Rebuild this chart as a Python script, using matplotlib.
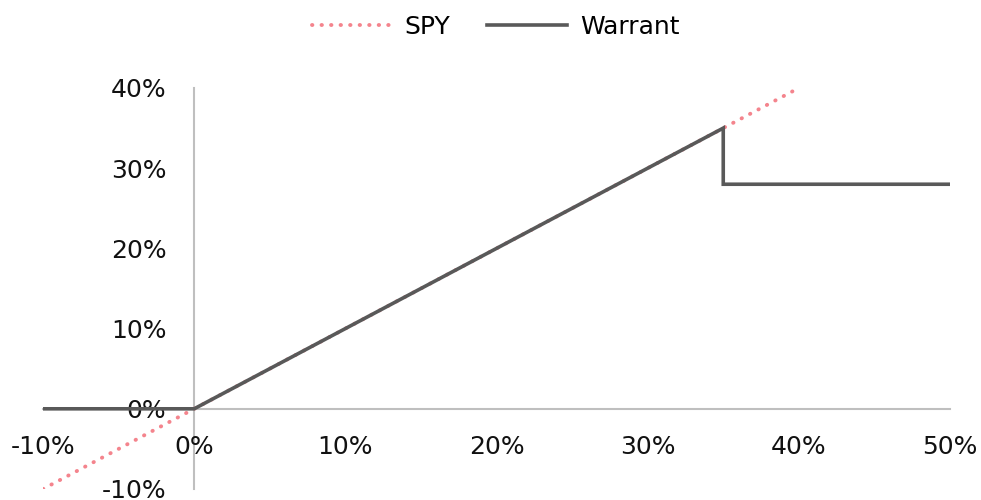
#!/usr/bin/env python

import matplotlib
matplotlib.use("Agg")
import matplotlib.pyplot as plt
from matplotlib.ticker import FuncFormatter

# SPY return vs warrant payoff
spy_x = [-0.10, 0.40]
spy_y = [-0.10, 0.40]

warrant_x = [-0.10, 0.0, 0.35, 0.35, 0.50]
warrant_y = [0.0, 0.0, 0.35, 0.28, 0.28]

x_ticks = [-0.1, 0.0, 0.1, 0.2, 0.3, 0.4, 0.5]
y_ticks = [-0.1, 0.0, 0.1, 0.2, 0.3, 0.4]

plt.rcParams["font.family"] = ["DejaVu Sans"]
plt.rcParams["axes.unicode_minus"] = False

fig = plt.figure(figsize=(9.81, 5.0), dpi=100)
ax = fig.add_axes([43 / 981, 11 / 500, 907 / 981, 401 / 500])

ax.plot(spy_x, spy_y, color="#f4848d", lw=2.8, linestyle=(0, (0.1, 2.35)),
        dash_capstyle="round", label="SPY", zorder=2)
ax.plot(warrant_x, warrant_y, color="#595959", lw=2.6, label="Warrant",
        solid_joinstyle="miter", zorder=3)

ax.set_xlim(-0.1, 0.5)
ax.set_ylim(-0.1, 0.4)
ax.set_xticks(x_ticks)
ax.set_yticks(y_ticks)
pct = FuncFormatter(lambda v, _: f"{v * 100:.0f}%")
ax.xaxis.set_major_formatter(pct)
ax.yaxis.set_major_formatter(pct)

for side in ["top", "right"]:
    ax.spines[side].set_visible(False)
ax.spines["left"].set_position(("data", 0))
ax.spines["bottom"].set_position(("data", 0))
for side in ["left", "bottom"]:
    ax.spines[side].set_color("#bfbfbf")
    ax.spines[side].set_linewidth(1.5)
    ax.spines[side].set_zorder(1)

ax.tick_params(axis="x", length=0, pad=19, labelsize=18, colors="#111111")
ax.tick_params(axis="y", length=0, pad=20, labelsize=18, colors="#111111")

fig.legend(loc="upper center", bbox_to_anchor=(0.505, 1.015), ncol=2,
           frameon=False, fontsize=18, handlelength=3.2, columnspacing=1.5,
           handletextpad=0.5)

plt.savefig("out.png", dpi=100)
